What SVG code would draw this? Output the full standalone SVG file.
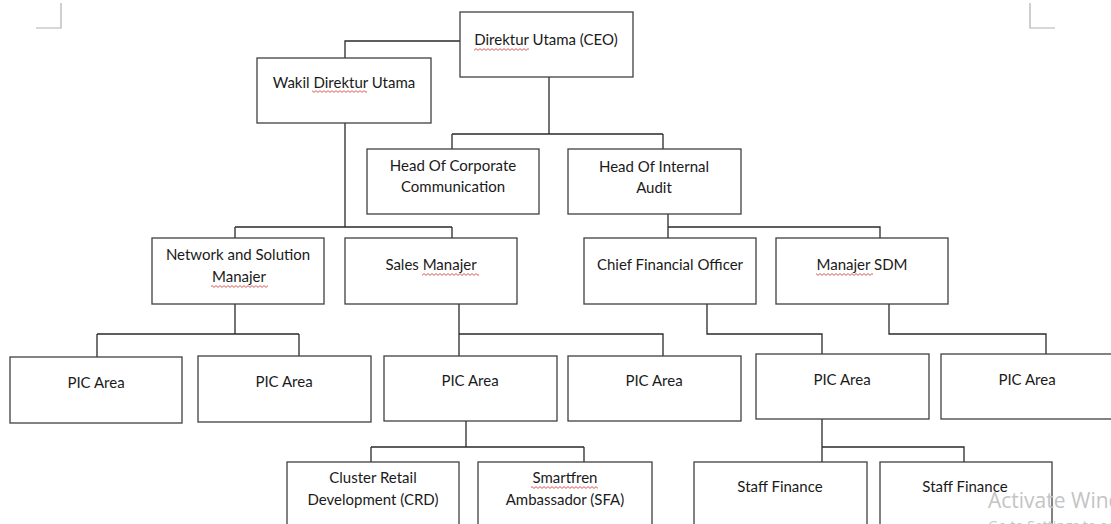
<svg xmlns="http://www.w3.org/2000/svg" width="1111" height="524" viewBox="0 0 1111 524">
<defs>
<pattern id="sq" width="4" height="3" patternUnits="userSpaceOnUse"><path d="M0 0.6 L2 2.4 L4 0.6" fill="none" stroke="#d03030" stroke-width="0.8"/></pattern>
</defs>
<style>
.box{fill:#fff;stroke:#404040;stroke-width:1.3}
.t{font-family:Lato,"Open Sans",sans-serif;font-size:15px;fill:#1a1a1a;text-anchor:middle}
.c{fill:none;stroke:#2a2a2a;stroke-width:1.3}
.mk{fill:none;stroke:#b0b0b0;stroke-width:1.2}
.wm{font-family:"Open Sans",sans-serif;fill:#c4c4c4}
</style>
<rect width="1111" height="524" fill="#fff"/>
<path class="mk" d="M61 3 V28 H36 M1030 3 V28 H1055"/>
<g id="connectors">
<path class="c" d="M460 41 H345 V58 M345 123 V227 M235 227 H452 M235 227 V238 M452 227 V238"/>
<path class="c" d="M549 77 V134 M452 134 H663 M452 134 V149 M663 134 V149"/>
<path class="c" d="M668 214 V238 M668 227 H880 V238"/>
<path class="c" d="M235 304 V334 M97 334 H299 M97 334 V357 M299 334 V356"/>
<path class="c" d="M459 304 V334 H663 V356 M459 334 V356"/>
<path class="c" d="M707 304 V334 H822 V354"/>
<path class="c" d="M889 304 V334 H1046 V354"/>
<path class="c" d="M466 421 V447 M371 447 H584 M371 447 V462 M584 447 V462"/>
<path class="c" d="M822 419 V462 M822 447 H964 V462"/>
</g>
<g id="ceo"><rect class="box" x="460" y="12" width="173" height="65"/><text class="t" x="546" y="45">Direktur Utama (CEO)</text><rect x="474" y="48" width="55" height="3" fill="url(#sq)"/></g>
<g id="wakil"><rect class="box" x="257" y="58" width="174" height="65"/><text class="t" x="344" y="88">Wakil Direktur Utama</text><rect x="312" y="90" width="55" height="3" fill="url(#sq)"/></g>
<g id="corpcomm"><rect class="box" x="367" y="149" width="172" height="65"/><text class="t" x="453" y="171">Head Of Corporate</text><text class="t" x="453" y="192">Communication</text></g>
<g id="audit"><rect class="box" x="568" y="149" width="173" height="65"/><text class="t" x="654" y="172">Head Of Internal</text><text class="t" x="654" y="193">Audit</text></g>
<g id="network"><rect class="box" x="152" y="238" width="172" height="66"/><text class="t" x="238" y="260">Network and Solution</text><text class="t" x="239" y="282">Manajer</text><rect x="211" y="285" width="57" height="3" fill="url(#sq)"/></g>
<g id="sales"><rect class="box" x="345" y="238" width="172" height="66"/><text class="t" x="431" y="270">Sales Manajer</text><rect x="422" y="273" width="57" height="3" fill="url(#sq)"/></g>
<g id="cfo"><rect class="box" x="584" y="238" width="172" height="66"/><text class="t" x="670" y="270">Chief Financial Officer</text></g>
<g id="sdm"><rect class="box" x="776" y="238" width="172" height="66"/><text class="t" x="862" y="270">Manajer SDM</text><rect x="816" y="273" width="57" height="3" fill="url(#sq)"/></g>
<g id="pic1"><rect class="box" x="10" y="357" width="172" height="66"/><text class="t" x="96" y="388">PIC Area</text></g>
<g id="pic2"><rect class="box" x="198" y="356" width="173" height="66"/><text class="t" x="284" y="387">PIC Area</text></g>
<g id="pic3"><rect class="box" x="384" y="356" width="173" height="65"/><text class="t" x="470" y="386">PIC Area</text></g>
<g id="pic4"><rect class="box" x="568" y="356" width="173" height="65"/><text class="t" x="654" y="386">PIC Area</text></g>
<g id="pic5"><rect class="box" x="756" y="354" width="173" height="65"/><text class="t" x="842" y="385">PIC Area</text></g>
<g id="pic6"><rect class="box" x="941" y="354" width="173" height="65"/><text class="t" x="1027" y="385">PIC Area</text></g>
<g id="crd"><rect class="box" x="287" y="462" width="172" height="70"/><text class="t" x="373" y="483">Cluster Retail</text><text class="t" x="373" y="505">Development (CRD)</text></g>
<g id="sfa"><rect class="box" x="478" y="462" width="174" height="70"/><text class="t" x="565" y="483">Smartfren</text><text class="t" x="565" y="505">Ambassador (SFA)</text><rect x="531" y="486" width="67" height="3" fill="url(#sq)"/></g>
<g id="staff1"><rect class="box" x="694" y="462" width="173" height="70"/><text class="t" x="780" y="492">Staff Finance</text></g>
<g id="staff2"><rect class="box" x="880" y="462" width="172" height="70"/><text class="t" x="965" y="492">Staff Finance</text></g>
<text class="wm" x="988" y="508" font-size="21">Activate Windows</text>
<text class="wm" x="988" y="531" font-size="14">Go to Settings to activate Windows.</text>
</svg>
